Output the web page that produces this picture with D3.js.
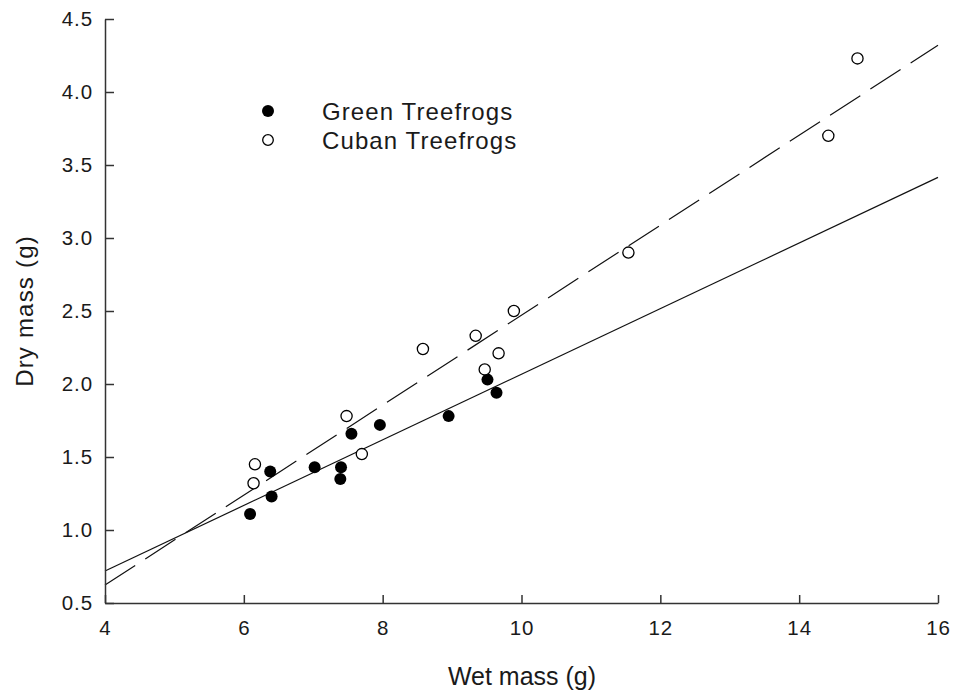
<!DOCTYPE html>
<html>
<head>
<meta charset="utf-8">
<script src="https://cdn.jsdelivr.net/npm/d3@7"></script>
<style>
    body { margin: 0; background: #fff; }
    svg { display: block; font-family: "Liberation Sans", Arial, sans-serif; }
    .axis path, .axis line { stroke: #333; stroke-width: 1.5; }
    .axis text { font-size: 20.5px; letter-spacing: 0.9px; fill: #1a1a1a; }
</style>
</head>
<body>
<svg id="chart"></svg>
<script>
// 绿树蛙
var greenWet = [6.09, 6.40, 6.38, 7.02, 7.40, 7.39, 7.55, 7.96, 8.95, 9.51, 9.64];
var greenDry = [1.11, 1.23, 1.40, 1.43, 1.43, 1.35, 1.66, 1.72, 1.78, 2.03, 1.94];
// 古巴树蛙
var cubanWet = [6.16, 6.14, 7.48, 7.70, 8.58, 9.34, 9.47, 9.67, 9.89, 11.54, 14.42, 14.84];
var cubanDry = [1.45, 1.32, 1.78, 1.52, 2.24, 2.33, 2.10, 2.21, 2.50, 2.90, 3.70, 4.23];
// 回归线两端
var fitWet = [4, 16];
var greenFit = [0.719, 3.415];
var cubanFit = [0.623, 4.32];
// 刻度
var xTicks = [4, 6, 8, 10, 12, 14, 16];
var yTicks = [0.5, 1.0, 1.5, 2.0, 2.5, 3.0, 3.5, 4.0, 4.5];
var seriesNames = ['Green Treefrogs', 'Cuban Treefrogs'];

var svgWidth = 958, svgHeight = 697;
var padding = {left: 105, right: 20, top: 19, bottom: 94};

var svg = d3.select('#chart')
    .attr('width', svgWidth)
    .attr('height', svgHeight);

var x = d3.scaleLinear().domain([4, 16]).range([padding.left, 938]);
var y = d3.scaleLinear().domain([0.5, 4.5]).range([svgHeight - padding.bottom, padding.top]);

function zip(a, b) {
    return a.map(function(d, i) { return [d, b[i]]; });
}

// 回归线
var line = d3.line()
    .x(function(d) { return x(d[0]); })
    .y(function(d) { return y(d[1]); });
svg.append('path')
    .attr('d', line(zip(fitWet, greenFit)))
    .attr('fill', 'none')
    .attr('stroke', '#111')
    .attr('stroke-width', 1.2);
svg.append('path')
    .attr('d', line(zip(fitWet, cubanFit)))
    .attr('fill', 'none')
    .attr('stroke', '#111')
    .attr('stroke-width', 1.2)
    .attr('stroke-dasharray', '36,12');

// 坐标轴
var xAxis = d3.axisBottom(x)
    .tickValues(xTicks)
    .tickSizeInner(-8)
    .tickSizeOuter(0)
    .tickPadding(17)
    .tickFormat(d3.format('d'));
svg.append('g')
    .attr('class', 'axis')
    .attr('transform', 'translate(0,' + y(0.5) + ')')
    .call(xAxis);

var yAxis = d3.axisLeft(y)
    .tickValues(yTicks)
    .tickSizeInner(-9)
    .tickSizeOuter(0)
    .tickPadding(12)
    .tickFormat(d3.format('.1f'));
svg.append('g')
    .attr('class', 'axis')
    .attr('transform', 'translate(' + x(4) + ',0)')
    .call(yAxis);
svg.selectAll('.axis .domain').attr('fill', 'none');

// 散点
svg.selectAll('.green')
    .data(zip(greenWet, greenDry))
    .enter()
    .append('circle')
    .attr('class', 'green')
    .attr('cx', function(d) { return x(d[0]); })
    .attr('cy', function(d) { return y(d[1]); })
    .attr('r', 6)
    .attr('fill', '#000');
svg.selectAll('.cuban')
    .data(zip(cubanWet, cubanDry))
    .enter()
    .append('circle')
    .attr('class', 'cuban')
    .attr('cx', function(d) { return x(d[0]); })
    .attr('cy', function(d) { return y(d[1]); })
    .attr('r', 5.6)
    .attr('fill', '#fff')
    .attr('stroke', '#000')
    .attr('stroke-width', 1.3);

// 图例
var legend = svg.selectAll('.legend')
    .data(seriesNames)
    .enter()
    .append('g')
    .attr('class', 'legend')
    .attr('transform', function(d, i) {
        return 'translate(268,' + (111 + i * 29) + ')';
    });
legend.append('circle')
    .attr('r', function(d, i) { return i === 0 ? 6 : 5.3; })
    .attr('fill', function(d, i) { return i === 0 ? '#000' : '#fff'; })
    .attr('stroke', '#000')
    .attr('stroke-width', function(d, i) { return i === 0 ? 0 : 1.3; });
legend.append('text')
    .attr('x', 54)
    .attr('y', 8.5)
    .style('font-size', '24px')
    .style('letter-spacing', '1.1px')
    .style('fill', '#1a1a1a')
    .text(function(d) { return d; });

// 轴标题
svg.append('text')
    .attr('x', 522)
    .attr('y', 685)
    .attr('text-anchor', 'middle')
    .style('font-size', '25px')
    .style('fill', '#1a1a1a')
    .text('Wet mass (g)');
svg.append('text')
    .attr('transform', 'translate(33,311) rotate(-90)')
    .attr('text-anchor', 'middle')
    .style('font-size', '24px')
    .style('letter-spacing', '1.2px')
    .style('fill', '#1a1a1a')
    .text('Dry mass (g)');
</script>
</body>
</html>
